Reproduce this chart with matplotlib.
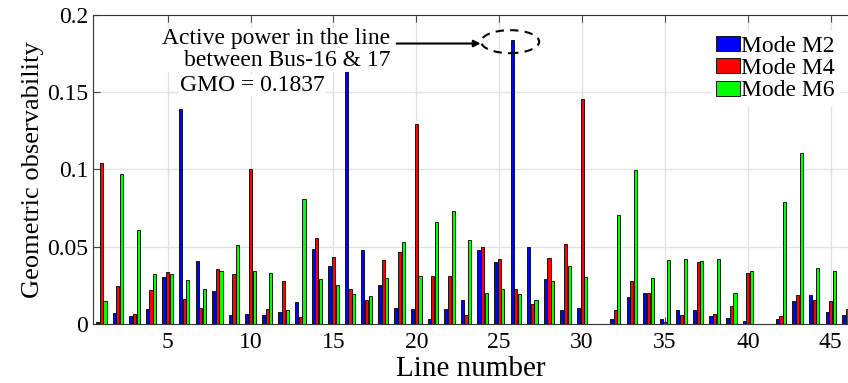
import numpy as np
import matplotlib
matplotlib.use('Agg')
import matplotlib.pyplot as plt
from matplotlib.patches import Ellipse

plt.rcParams['font.family'] = ['Liberation Serif', 'DejaVu Serif']

# Geometric observability per line
lines = np.arange(1, 47)
mode_m2 = [0.0015, 0.0069, 0.0052, 0.0097, 0.0302, 0.139, 0.041, 0.0216, 0.0058, 0.0065,
           0.0058, 0.0078, 0.014, 0.0484, 0.0374, 0.1635, 0.048, 0.025, 0.0102, 0.0095,
           0.003, 0.01, 0.0153, 0.0477, 0.04, 0.1837, 0.0501, 0.0289, 0.0093, 0.0104,
           0, 0.0035, 0.0177, 0.0201, 0.0032, 0.0091, 0.0091, 0.005, 0.0037, 0.0017,
           0, 0.003, 0.0147, 0.0186, 0.0076, 0.006]
mode_m4 = [0.104, 0.0248, 0.0065, 0.0218, 0.0335, 0.0164, 0.0102, 0.0354, 0.0324, 0.1002,
           0.0095, 0.0281, 0.0043, 0.0557, 0.0432, 0.0227, 0.0153, 0.0415, 0.0469, 0.1294,
           0.0311, 0.031, 0.0056, 0.0501, 0.0419, 0.0225, 0.0127, 0.0425, 0.052, 0.1456,
           0, 0.0091, 0.0279, 0.0201, 0.0015, 0.0056, 0.04, 0.0067, 0.0119, 0.0328,
           0, 0.0052, 0.0188, 0.0153, 0.0151, 0.0095]
mode_m6 = [0.0149, 0.097, 0.0607, 0.0322, 0.0322, 0.0283, 0.0225, 0.0341, 0.0512, 0.0343,
           0.0333, 0.0091, 0.081, 0.0289, 0.025, 0.0192, 0.0179, 0.03, 0.0529, 0.0311,
           0.0659, 0.073, 0.0542, 0.0203, 0.0225, 0.0192, 0.0156, 0.0276, 0.0374, 0.0305,
           0, 0.0708, 0.0996, 0.0296, 0.0415, 0.0419, 0.0406, 0.0423, 0.0201, 0.0341,
           0, 0.0788, 0.1104, 0.0361, 0.0346, 0.01]
series = [('Mode M2', mode_m2, '#0000ff'),
          ('Mode M4', mode_m4, '#ff0000'),
          ('Mode M6', mode_m6, '#00ff00')]

fig = plt.figure(figsize=(8.48, 3.83), dpi=100)
ax = fig.add_axes([0.1097, 0.154, 0.8903, 0.807])

w = 0.19
offs = [-0.222, 0, 0.222]
for (name, vals, col), off in zip(series, offs):
    ax.bar(lines + off, vals, width=w, color=col, edgecolor='black',
           linewidth=0.6, label=name, zorder=3)

ax.set_xlim(0.5, 46.04)
ax.set_ylim(0, 0.2)
ax.set_xticks(range(5, 46, 5))
ax.set_yticks([0, 0.05, 0.1, 0.15, 0.2])
ax.set_yticklabels(['0', '0.05', '0.1', '0.15', '0.2'])
ax.tick_params(direction='in', top=True, labelsize=17, length=5, color='#444444')
ax.tick_params(axis='x', pad=6)
ax.grid(True, color='#e2e2e2', linewidth=1, zorder=0)
ax.set_axisbelow(True)
ax.spines['right'].set_visible(False)
for s in ['left', 'top', 'bottom']:
    ax.spines[s].set_color('#333333')

ax.set_xlabel('Line number', fontsize=21, labelpad=2)
ax.set_ylabel('Geometric observability', fontsize=19, labelpad=2)

leg = ax.legend(loc='upper right', bbox_to_anchor=(1.004, 0.985), fontsize=17,
                handlelength=1.0, handleheight=0.6, handletextpad=0.05,
                labelspacing=0.05, borderpad=0.2, frameon=True, fancybox=False)
leg.get_frame().set_edgecolor('white')
leg.get_frame().set_facecolor('white')
leg.get_frame().set_alpha(1)

bbox = dict(facecolor='white', edgecolor='none', pad=0.5)
ax.text(18.45, 0.1775, 'Active power in the line\nbetween Bus-16 & 17', ha='right',
        va='center', multialignment='right', fontsize=17, linespacing=1.05,
        bbox=bbox, zorder=5)
ax.text(5.75, 0.1545, 'GMO = 0.1837', ha='left', va='center', fontsize=17,
        bbox=bbox, zorder=5)
ax.annotate('', xy=(24.05, 0.1815), xytext=(18.65, 0.1815),
            arrowprops=dict(arrowstyle='-|>', color='black', lw=1.5,
                            mutation_scale=10), zorder=6)
ax.add_patch(Ellipse((25.66, 0.1827), 3.5, 0.0149, fill=False,
                     linestyle=(0, (4, 3)), edgecolor='black', lw=1.5, zorder=6))

fig.savefig('out.png', dpi=100)
